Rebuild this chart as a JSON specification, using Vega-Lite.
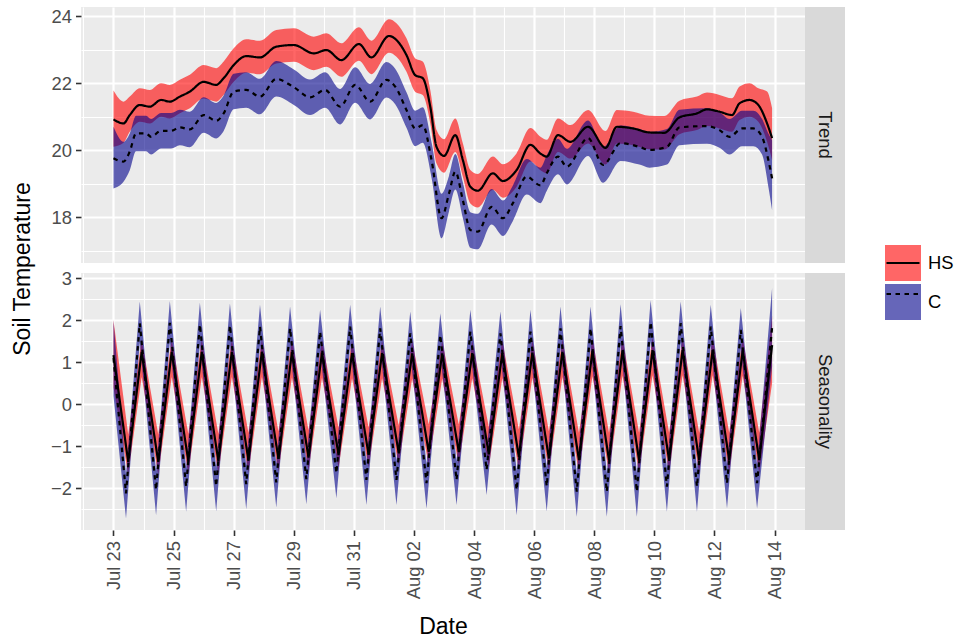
{
"$schema":"https://vega.github.io/schema/vega-lite/v6.json",
"background":"white",
"autosize":{"type":"pad"},
"padding":{"left":11,"top":7,"right":0,"bottom":0},
"bounds":"flush",
"columns":2,
"spacing":{"row":10,"column":0},
"config":{
 "font":"Liberation Sans",
 "view":{"stroke":null},
 "axis":{"domain":false,"labelFont":"Liberation Sans","labelFontSize":18.4,"labelColor":"#4D4D4D","tickColor":"#333333","tickSize":5.5,"tickWidth":1.6,"labelPadding":4,"gridColor":"#FFFFFF","titleFont":"Liberation Sans","titleFontSize":23,"titleFontWeight":"normal","titleColor":"#000000","labelOverlap":false},
 "legend":{"labelFont":"Liberation Sans"}
},
"datasets":{
"trend":[
{"g":"HS","t":"2016-07-23T00:00Z","v":20.92,"lo":20.10,"hi":21.78},
{"g":"HS","t":"2016-07-23T08:00Z","v":20.80,"lo":20.22,"hi":21.45},
{"g":"HS","t":"2016-07-23T13:00Z","v":21.05,"lo":20.55,"hi":21.60},
{"g":"HS","t":"2016-07-23T21:00Z","v":21.35,"lo":20.85,"hi":21.85},
{"g":"HS","t":"2016-07-24T05:00Z","v":21.30,"lo":20.80,"hi":21.80},
{"g":"HS","t":"2016-07-24T14:00Z","v":21.50,"lo":21.00,"hi":22.00},
{"g":"HS","t":"2016-07-24T21:00Z","v":21.45,"lo":20.95,"hi":21.95},
{"g":"HS","t":"2016-07-25T05:00Z","v":21.60,"lo":21.10,"hi":22.10},
{"g":"HS","t":"2016-07-25T13:00Z","v":21.75,"lo":21.25,"hi":22.25},
{"g":"HS","t":"2016-07-26T00:00Z","v":22.04,"lo":21.54,"hi":22.54},
{"g":"HS","t":"2016-07-26T10:00Z","v":21.95,"lo":21.45,"hi":22.45},
{"g":"HS","t":"2016-07-26T16:00Z","v":22.15,"lo":21.65,"hi":22.65},
{"g":"HS","t":"2016-07-27T00:00Z","v":22.54,"lo":22.04,"hi":23.04},
{"g":"HS","t":"2016-07-27T10:00Z","v":22.81,"lo":22.31,"hi":23.31},
{"g":"HS","t":"2016-07-27T21:00Z","v":22.77,"lo":22.27,"hi":23.27},
{"g":"HS","t":"2016-07-28T10:00Z","v":23.09,"lo":22.59,"hi":23.59},
{"g":"HS","t":"2016-07-29T00:00Z","v":23.14,"lo":22.64,"hi":23.64},
{"g":"HS","t":"2016-07-29T16:00Z","v":22.89,"lo":22.39,"hi":23.39},
{"g":"HS","t":"2016-07-30T02:00Z","v":22.99,"lo":22.49,"hi":23.49},
{"g":"HS","t":"2016-07-30T14:00Z","v":22.69,"lo":22.19,"hi":23.19},
{"g":"HS","t":"2016-07-31T04:00Z","v":23.17,"lo":22.67,"hi":23.67},
{"g":"HS","t":"2016-07-31T14:00Z","v":22.77,"lo":22.27,"hi":23.27},
{"g":"HS","t":"2016-08-01T04:00Z","v":23.41,"lo":22.91,"hi":23.91},
{"g":"HS","t":"2016-08-01T10:00Z","v":23.29,"lo":22.79,"hi":23.79},
{"g":"HS","t":"2016-08-01T18:00Z","v":22.84,"lo":22.34,"hi":23.34},
{"g":"HS","t":"2016-08-02T01:00Z","v":22.24,"lo":21.74,"hi":22.74},
{"g":"HS","t":"2016-08-02T07:00Z","v":22.15,"lo":21.65,"hi":22.65},
{"g":"HS","t":"2016-08-02T13:00Z","v":21.30,"lo":20.80,"hi":21.80},
{"g":"HS","t":"2016-08-02T18:00Z","v":20.10,"lo":19.60,"hi":20.60},
{"g":"HS","t":"2016-08-03T00:00Z","v":19.83,"lo":19.33,"hi":20.33},
{"g":"HS","t":"2016-08-03T09:00Z","v":20.45,"lo":19.95,"hi":20.95},
{"g":"HS","t":"2016-08-03T15:00Z","v":19.71,"lo":19.21,"hi":20.21},
{"g":"HS","t":"2016-08-03T21:00Z","v":18.91,"lo":18.41,"hi":19.41},
{"g":"HS","t":"2016-08-04T03:00Z","v":18.79,"lo":18.29,"hi":19.29},
{"g":"HS","t":"2016-08-04T15:00Z","v":19.31,"lo":18.81,"hi":19.81},
{"g":"HS","t":"2016-08-04T23:00Z","v":19.08,"lo":18.58,"hi":19.58},
{"g":"HS","t":"2016-08-05T10:00Z","v":19.41,"lo":18.91,"hi":19.91},
{"g":"HS","t":"2016-08-05T21:00Z","v":20.16,"lo":19.66,"hi":20.66},
{"g":"HS","t":"2016-08-06T05:00Z","v":19.90,"lo":19.40,"hi":20.40},
{"g":"HS","t":"2016-08-06T10:00Z","v":19.81,"lo":19.31,"hi":20.31},
{"g":"HS","t":"2016-08-06T19:00Z","v":20.45,"lo":19.95,"hi":20.95},
{"g":"HS","t":"2016-08-07T05:00Z","v":20.25,"lo":19.75,"hi":20.75},
{"g":"HS","t":"2016-08-07T19:00Z","v":20.70,"lo":20.20,"hi":21.20},
{"g":"HS","t":"2016-08-08T09:00Z","v":20.07,"lo":19.57,"hi":20.57},
{"g":"HS","t":"2016-08-08T18:00Z","v":20.70,"lo":20.20,"hi":21.20},
{"g":"HS","t":"2016-08-09T07:00Z","v":20.65,"lo":20.15,"hi":21.15},
{"g":"HS","t":"2016-08-09T20:00Z","v":20.53,"lo":20.03,"hi":21.03},
{"g":"HS","t":"2016-08-10T08:00Z","v":20.52,"lo":20.02,"hi":21.02},
{"g":"HS","t":"2016-08-10T20:00Z","v":20.98,"lo":20.48,"hi":21.48},
{"g":"HS","t":"2016-08-11T10:00Z","v":21.10,"lo":20.60,"hi":21.60},
{"g":"HS","t":"2016-08-11T18:00Z","v":21.22,"lo":20.72,"hi":21.72},
{"g":"HS","t":"2016-08-12T04:00Z","v":21.15,"lo":20.65,"hi":21.65},
{"g":"HS","t":"2016-08-12T14:00Z","v":21.05,"lo":20.55,"hi":21.55},
{"g":"HS","t":"2016-08-12T20:00Z","v":21.40,"lo":20.90,"hi":21.90},
{"g":"HS","t":"2016-08-13T04:00Z","v":21.50,"lo":21.00,"hi":22.00},
{"g":"HS","t":"2016-08-13T11:00Z","v":21.35,"lo":20.85,"hi":21.85},
{"g":"HS","t":"2016-08-13T18:00Z","v":20.80,"lo":20.25,"hi":21.75},
{"g":"HS","t":"2016-08-13T22:00Z","v":20.36,"lo":19.71,"hi":21.25},
{"g":"C","t":"2016-07-23T00:00Z","v":19.76,"lo":18.86,"hi":20.70},
{"g":"C","t":"2016-07-23T08:00Z","v":19.66,"lo":19.06,"hi":20.25},
{"g":"C","t":"2016-07-23T13:00Z","v":19.96,"lo":19.40,"hi":20.50},
{"g":"C","t":"2016-07-23T18:00Z","v":20.50,"lo":19.97,"hi":21.03},
{"g":"C","t":"2016-07-24T02:00Z","v":20.50,"lo":19.97,"hi":21.03},
{"g":"C","t":"2016-07-24T06:00Z","v":20.40,"lo":19.87,"hi":20.93},
{"g":"C","t":"2016-07-24T14:00Z","v":20.58,"lo":20.05,"hi":21.11},
{"g":"C","t":"2016-07-24T22:00Z","v":20.58,"lo":20.05,"hi":21.11},
{"g":"C","t":"2016-07-25T05:00Z","v":20.68,"lo":20.15,"hi":21.21},
{"g":"C","t":"2016-07-25T13:00Z","v":20.62,"lo":20.09,"hi":21.15},
{"g":"C","t":"2016-07-26T00:00Z","v":21.05,"lo":20.52,"hi":21.58},
{"g":"C","t":"2016-07-26T10:00Z","v":20.88,"lo":20.35,"hi":21.41},
{"g":"C","t":"2016-07-26T16:00Z","v":21.10,"lo":20.57,"hi":21.63},
{"g":"C","t":"2016-07-27T00:00Z","v":21.75,"lo":21.22,"hi":22.28},
{"g":"C","t":"2016-07-27T10:00Z","v":21.80,"lo":21.27,"hi":22.33},
{"g":"C","t":"2016-07-27T21:00Z","v":21.60,"lo":21.07,"hi":22.13},
{"g":"C","t":"2016-07-28T10:00Z","v":22.13,"lo":21.60,"hi":22.66},
{"g":"C","t":"2016-07-29T00:00Z","v":21.88,"lo":21.35,"hi":22.41},
{"g":"C","t":"2016-07-29T13:00Z","v":21.58,"lo":21.05,"hi":22.11},
{"g":"C","t":"2016-07-30T01:00Z","v":21.80,"lo":21.27,"hi":22.33},
{"g":"C","t":"2016-07-30T13:00Z","v":21.30,"lo":20.77,"hi":21.83},
{"g":"C","t":"2016-07-31T01:00Z","v":21.95,"lo":21.42,"hi":22.48},
{"g":"C","t":"2016-07-31T13:00Z","v":21.45,"lo":20.92,"hi":21.98},
{"g":"C","t":"2016-08-01T02:00Z","v":22.10,"lo":21.57,"hi":22.63},
{"g":"C","t":"2016-08-01T09:00Z","v":21.90,"lo":21.37,"hi":22.43},
{"g":"C","t":"2016-08-01T18:00Z","v":21.20,"lo":20.67,"hi":21.73},
{"g":"C","t":"2016-08-02T01:00Z","v":20.65,"lo":20.12,"hi":21.18},
{"g":"C","t":"2016-08-02T07:00Z","v":20.75,"lo":20.22,"hi":21.28},
{"g":"C","t":"2016-08-02T14:00Z","v":19.71,"lo":19.18,"hi":20.24},
{"g":"C","t":"2016-08-02T22:00Z","v":17.97,"lo":17.37,"hi":18.70},
{"g":"C","t":"2016-08-03T04:00Z","v":18.71,"lo":18.18,"hi":19.24},
{"g":"C","t":"2016-08-03T09:00Z","v":19.36,"lo":18.83,"hi":19.89},
{"g":"C","t":"2016-08-03T15:00Z","v":18.51,"lo":17.98,"hi":19.04},
{"g":"C","t":"2016-08-03T21:00Z","v":17.62,"lo":17.09,"hi":18.15},
{"g":"C","t":"2016-08-04T03:00Z","v":17.57,"lo":17.04,"hi":18.10},
{"g":"C","t":"2016-08-04T14:00Z","v":18.31,"lo":17.78,"hi":18.84},
{"g":"C","t":"2016-08-04T23:00Z","v":17.97,"lo":17.44,"hi":18.50},
{"g":"C","t":"2016-08-05T07:00Z","v":18.42,"lo":17.89,"hi":18.95},
{"g":"C","t":"2016-08-05T18:00Z","v":19.21,"lo":18.68,"hi":19.74},
{"g":"C","t":"2016-08-06T05:00Z","v":18.95,"lo":18.42,"hi":19.48},
{"g":"C","t":"2016-08-06T10:00Z","v":19.31,"lo":18.78,"hi":19.84},
{"g":"C","t":"2016-08-06T19:00Z","v":19.81,"lo":19.28,"hi":20.34},
{"g":"C","t":"2016-08-07T02:00Z","v":19.51,"lo":18.98,"hi":20.04},
{"g":"C","t":"2016-08-07T19:00Z","v":20.36,"lo":19.83,"hi":20.89},
{"g":"C","t":"2016-08-08T07:00Z","v":19.56,"lo":19.03,"hi":20.09},
{"g":"C","t":"2016-08-08T21:00Z","v":20.21,"lo":19.68,"hi":20.74},
{"g":"C","t":"2016-08-09T12:00Z","v":20.10,"lo":19.57,"hi":20.63},
{"g":"C","t":"2016-08-09T20:00Z","v":20.01,"lo":19.48,"hi":20.54},
{"g":"C","t":"2016-08-10T10:00Z","v":20.10,"lo":19.57,"hi":20.63},
{"g":"C","t":"2016-08-10T20:00Z","v":20.68,"lo":20.15,"hi":21.21},
{"g":"C","t":"2016-08-11T18:00Z","v":20.72,"lo":20.19,"hi":21.25},
{"g":"C","t":"2016-08-12T04:00Z","v":20.60,"lo":20.07,"hi":21.13},
{"g":"C","t":"2016-08-12T12:00Z","v":20.40,"lo":19.87,"hi":20.93},
{"g":"C","t":"2016-08-12T22:00Z","v":20.65,"lo":20.12,"hi":21.18},
{"g":"C","t":"2016-08-13T07:00Z","v":20.65,"lo":20.12,"hi":21.18},
{"g":"C","t":"2016-08-13T14:00Z","v":20.40,"lo":19.87,"hi":20.93},
{"g":"C","t":"2016-08-13T19:00Z","v":19.71,"lo":18.91,"hi":20.50},
{"g":"C","t":"2016-08-13T22:00Z","v":19.16,"lo":18.21,"hi":20.30}
],
"season":[
{"g":"HS","t":"2016-07-23T00:00Z","v":1.17,"lo":0.40,"hi":2.00},
{"g":"HS","t":"2016-07-23T11:45Z","v":-1.37,"lo":-1.67,"hi":-0.72},
{"g":"HS","t":"2016-07-23T22:30Z","v":1.25,"lo":0.65,"hi":1.55},
{"g":"HS","t":"2016-07-24T11:45Z","v":-1.37,"lo":-1.67,"hi":-0.72},
{"g":"HS","t":"2016-07-24T22:30Z","v":1.25,"lo":0.65,"hi":1.55},
{"g":"HS","t":"2016-07-25T11:45Z","v":-1.35,"lo":-1.65,"hi":-0.70},
{"g":"HS","t":"2016-07-25T22:30Z","v":1.25,"lo":0.65,"hi":1.55},
{"g":"HS","t":"2016-07-26T11:45Z","v":-1.35,"lo":-1.65,"hi":-0.70},
{"g":"HS","t":"2016-07-26T22:30Z","v":1.25,"lo":0.65,"hi":1.55},
{"g":"HS","t":"2016-07-27T11:45Z","v":-1.33,"lo":-1.63,"hi":-0.68},
{"g":"HS","t":"2016-07-27T22:30Z","v":1.25,"lo":0.65,"hi":1.55},
{"g":"HS","t":"2016-07-28T11:45Z","v":-1.30,"lo":-1.60,"hi":-0.65},
{"g":"HS","t":"2016-07-28T22:30Z","v":1.24,"lo":0.64,"hi":1.54},
{"g":"HS","t":"2016-07-29T11:45Z","v":-1.27,"lo":-1.57,"hi":-0.62},
{"g":"HS","t":"2016-07-29T22:30Z","v":1.23,"lo":0.63,"hi":1.53},
{"g":"HS","t":"2016-07-30T11:45Z","v":-1.21,"lo":-1.51,"hi":-0.56},
{"g":"HS","t":"2016-07-30T22:30Z","v":1.22,"lo":0.62,"hi":1.52},
{"g":"HS","t":"2016-07-31T11:45Z","v":-1.20,"lo":-1.50,"hi":-0.55},
{"g":"HS","t":"2016-07-31T22:30Z","v":1.22,"lo":0.62,"hi":1.52},
{"g":"HS","t":"2016-08-01T11:45Z","v":-1.15,"lo":-1.45,"hi":-0.50},
{"g":"HS","t":"2016-08-01T22:30Z","v":1.21,"lo":0.61,"hi":1.51},
{"g":"HS","t":"2016-08-02T11:45Z","v":-1.13,"lo":-1.43,"hi":-0.48},
{"g":"HS","t":"2016-08-02T22:30Z","v":1.21,"lo":0.61,"hi":1.51},
{"g":"HS","t":"2016-08-03T11:45Z","v":-1.13,"lo":-1.43,"hi":-0.48},
{"g":"HS","t":"2016-08-03T22:30Z","v":1.22,"lo":0.62,"hi":1.52},
{"g":"HS","t":"2016-08-04T11:45Z","v":-1.19,"lo":-1.49,"hi":-0.54},
{"g":"HS","t":"2016-08-04T22:30Z","v":1.22,"lo":0.62,"hi":1.52},
{"g":"HS","t":"2016-08-05T11:45Z","v":-1.25,"lo":-1.55,"hi":-0.60},
{"g":"HS","t":"2016-08-05T22:30Z","v":1.23,"lo":0.63,"hi":1.53},
{"g":"HS","t":"2016-08-06T11:45Z","v":-1.29,"lo":-1.59,"hi":-0.64},
{"g":"HS","t":"2016-08-06T22:30Z","v":1.25,"lo":0.65,"hi":1.55},
{"g":"HS","t":"2016-08-07T11:45Z","v":-1.33,"lo":-1.63,"hi":-0.68},
{"g":"HS","t":"2016-08-07T22:30Z","v":1.27,"lo":0.67,"hi":1.57},
{"g":"HS","t":"2016-08-08T11:45Z","v":-1.33,"lo":-1.63,"hi":-0.68},
{"g":"HS","t":"2016-08-08T22:30Z","v":1.28,"lo":0.68,"hi":1.58},
{"g":"HS","t":"2016-08-09T11:45Z","v":-1.33,"lo":-1.63,"hi":-0.68},
{"g":"HS","t":"2016-08-09T22:30Z","v":1.29,"lo":0.69,"hi":1.59},
{"g":"HS","t":"2016-08-10T11:45Z","v":-1.33,"lo":-1.63,"hi":-0.68},
{"g":"HS","t":"2016-08-10T22:30Z","v":1.29,"lo":0.69,"hi":1.59},
{"g":"HS","t":"2016-08-11T11:45Z","v":-1.33,"lo":-1.63,"hi":-0.68},
{"g":"HS","t":"2016-08-11T22:30Z","v":1.29,"lo":0.69,"hi":1.59},
{"g":"HS","t":"2016-08-12T11:45Z","v":-1.33,"lo":-1.63,"hi":-0.68},
{"g":"HS","t":"2016-08-12T22:30Z","v":1.28,"lo":0.68,"hi":1.58},
{"g":"HS","t":"2016-08-13T11:45Z","v":-1.33,"lo":-1.63,"hi":-0.68},
{"g":"HS","t":"2016-08-13T22:00Z","v":1.41,"lo":0.50,"hi":2.10},
{"g":"C","t":"2016-07-23T00:00Z","v":1.10,"lo":0.20,"hi":2.00},
{"g":"C","t":"2016-07-23T10:00Z","v":-2.12,"lo":-2.72,"hi":-1.67},
{"g":"C","t":"2016-07-23T21:00Z","v":1.93,"lo":1.48,"hi":2.45},
{"g":"C","t":"2016-07-24T10:00Z","v":-2.04,"lo":-2.64,"hi":-1.59},
{"g":"C","t":"2016-07-24T21:00Z","v":1.94,"lo":1.49,"hi":2.46},
{"g":"C","t":"2016-07-25T10:00Z","v":-1.96,"lo":-2.56,"hi":-1.51},
{"g":"C","t":"2016-07-25T21:00Z","v":1.90,"lo":1.45,"hi":2.42},
{"g":"C","t":"2016-07-26T10:00Z","v":-1.95,"lo":-2.55,"hi":-1.50},
{"g":"C","t":"2016-07-26T21:00Z","v":1.88,"lo":1.43,"hi":2.40},
{"g":"C","t":"2016-07-27T10:00Z","v":-1.90,"lo":-2.50,"hi":-1.45},
{"g":"C","t":"2016-07-27T21:00Z","v":1.85,"lo":1.40,"hi":2.37},
{"g":"C","t":"2016-07-28T10:00Z","v":-1.86,"lo":-2.46,"hi":-1.41},
{"g":"C","t":"2016-07-28T21:00Z","v":1.81,"lo":1.36,"hi":2.33},
{"g":"C","t":"2016-07-29T10:00Z","v":-1.78,"lo":-2.38,"hi":-1.33},
{"g":"C","t":"2016-07-29T21:00Z","v":1.73,"lo":1.28,"hi":2.25},
{"g":"C","t":"2016-07-30T10:00Z","v":-1.64,"lo":-2.24,"hi":-1.19},
{"g":"C","t":"2016-07-30T21:00Z","v":1.85,"lo":1.40,"hi":2.37},
{"g":"C","t":"2016-07-31T10:00Z","v":-1.80,"lo":-2.40,"hi":-1.35},
{"g":"C","t":"2016-07-31T21:00Z","v":1.81,"lo":1.36,"hi":2.33},
{"g":"C","t":"2016-08-01T10:00Z","v":-1.80,"lo":-2.40,"hi":-1.35},
{"g":"C","t":"2016-08-01T21:00Z","v":1.69,"lo":1.24,"hi":2.21},
{"g":"C","t":"2016-08-02T10:00Z","v":-1.88,"lo":-2.48,"hi":-1.43},
{"g":"C","t":"2016-08-02T21:00Z","v":1.65,"lo":1.20,"hi":2.17},
{"g":"C","t":"2016-08-03T10:00Z","v":-1.80,"lo":-2.40,"hi":-1.35},
{"g":"C","t":"2016-08-03T21:00Z","v":1.73,"lo":1.28,"hi":2.25},
{"g":"C","t":"2016-08-04T10:00Z","v":-1.56,"lo":-2.16,"hi":-1.11},
{"g":"C","t":"2016-08-04T21:00Z","v":1.69,"lo":1.24,"hi":2.21},
{"g":"C","t":"2016-08-05T10:00Z","v":-2.04,"lo":-2.64,"hi":-1.59},
{"g":"C","t":"2016-08-05T21:00Z","v":1.73,"lo":1.28,"hi":2.25},
{"g":"C","t":"2016-08-06T10:00Z","v":-1.95,"lo":-2.55,"hi":-1.50},
{"g":"C","t":"2016-08-06T21:00Z","v":1.81,"lo":1.36,"hi":2.33},
{"g":"C","t":"2016-08-07T10:00Z","v":-2.08,"lo":-2.68,"hi":-1.63},
{"g":"C","t":"2016-08-07T21:00Z","v":1.81,"lo":1.36,"hi":2.33},
{"g":"C","t":"2016-08-08T10:00Z","v":-2.08,"lo":-2.68,"hi":-1.63},
{"g":"C","t":"2016-08-08T21:00Z","v":1.86,"lo":1.41,"hi":2.38},
{"g":"C","t":"2016-08-09T10:00Z","v":-2.08,"lo":-2.68,"hi":-1.63},
{"g":"C","t":"2016-08-09T21:00Z","v":1.96,"lo":1.51,"hi":2.48},
{"g":"C","t":"2016-08-10T10:00Z","v":-1.96,"lo":-2.56,"hi":-1.51},
{"g":"C","t":"2016-08-10T21:00Z","v":1.93,"lo":1.48,"hi":2.45},
{"g":"C","t":"2016-08-11T10:00Z","v":-1.96,"lo":-2.56,"hi":-1.51},
{"g":"C","t":"2016-08-11T21:00Z","v":1.85,"lo":1.40,"hi":2.37},
{"g":"C","t":"2016-08-12T10:00Z","v":-1.88,"lo":-2.48,"hi":-1.43},
{"g":"C","t":"2016-08-12T21:00Z","v":1.77,"lo":1.32,"hi":2.29},
{"g":"C","t":"2016-08-13T10:00Z","v":-1.88,"lo":-2.48,"hi":-1.43},
{"g":"C","t":"2016-08-13T22:00Z","v":1.83,"lo":0.90,"hi":2.77}
]
},
"concat":[
{
 "width":724,"height":256,
 "view":{"fill":"#EBEBEB","stroke":null},
 "data":{"name":"trend"},
 "encoding":{"x":{"field":"t","type":"temporal",
   "scale":{"type":"utc","domain":[{"year":2016,"month":7,"date":21,"hours":22,"minutes":3,"utc":true},{"year":2016,"month":8,"date":15,"hours":0,"minutes":17,"utc":true}]},
   "axis":{"values":[1469145600000,1469232000000,1469318400000,1469404800000,1469491200000,1469577600000,1469664000000,1469750400000,1469836800000,1469923200000,1470009600000,1470096000000,1470182400000,1470268800000,1470355200000,1470441600000,1470528000000,1470614400000,1470700800000,1470787200000,1470873600000,1470960000000,1471046400000,1471132800000],
     "labels":false,"ticks":false,"title":null,"grid":true,
     "gridWidth":{"condition":{"test":"((datum.value - 1469232000000) / 86400000) % 2 == 0","value":2.2},"value":1.1}}}},
 "layer":[
  {"transform":[{"filter":"datum.g == 'HS'"}],
   "mark":{"type":"area","fillOpacity":0.6,"interpolate":"monotone"},
   "encoding":{"y":{"field":"hi","type":"quantitative","scale":{"domain":[16.633,24.275],"nice":false,"zero":false},
      "axis":{"values":[17,18,19,20,21,22,23,24],"format":".0f","labelExpr":"datum.value % 2 == 0 ? datum.label : ''",
        "gridWidth":{"condition":{"test":"datum.value % 2 == 0","value":2.2},"value":1.1},
        "tickOpacity":{"condition":{"test":"datum.value % 2 == 0","value":1},"value":0},
        "title":"Soil Temperature","titleY":261.5,"titlePadding":17}},
     "y2":{"field":"lo"},
     "fill":{"field":"g","type":"nominal","scale":{"domain":["HS","C"],"range":["#FF0000","#00008B"]},
       "legend":{"orient":"none","legendX":804,"legendY":238,"title":null,"symbolType":"square","symbolSize":1296,"symbolOpacity":0.6,"symbolStrokeWidth":0,"labelFontSize":18.4,"labelColor":"#000000","labelOffset":7,"rowPadding":3,"padding":0}}}},
  {"transform":[{"filter":"datum.g == 'C'"}],
   "mark":{"type":"area","fillOpacity":0.6,"interpolate":"monotone"},
   "encoding":{"y":{"field":"hi","type":"quantitative","scale":{"domain":[16.633,24.275],"nice":false,"zero":false},
      "axis":{"values":[17,18,19,20,21,22,23,24],"format":".0f","labelExpr":"datum.value % 2 == 0 ? datum.label : ''",
        "gridWidth":{"condition":{"test":"datum.value % 2 == 0","value":2.2},"value":1.1},
        "tickOpacity":{"condition":{"test":"datum.value % 2 == 0","value":1},"value":0},
        "title":"Soil Temperature","titleY":261.5,"titlePadding":17}},
     "y2":{"field":"lo"},
     "fill":{"field":"g","type":"nominal","scale":{"domain":["HS","C"],"range":["#FF0000","#00008B"]},
       "legend":{"orient":"none","legendX":804,"legendY":238,"title":null,"symbolType":"square","symbolSize":1296,"symbolOpacity":0.6,"symbolStrokeWidth":0,"labelFontSize":18.4,"labelColor":"#000000","labelOffset":7,"rowPadding":3,"padding":0}}}},
  {"mark":{"type":"line","interpolate":"monotone","color":"#000000","strokeWidth":2.2},
   "encoding":{"y":{"field":"v","type":"quantitative","scale":{"domain":[16.633,24.275],"nice":false,"zero":false},
      "axis":{"values":[17,18,19,20,21,22,23,24],"format":".0f","labelExpr":"datum.value % 2 == 0 ? datum.label : ''",
        "gridWidth":{"condition":{"test":"datum.value % 2 == 0","value":2.2},"value":1.1},
        "tickOpacity":{"condition":{"test":"datum.value % 2 == 0","value":1},"value":0},
        "title":"Soil Temperature","titleY":261.5,"titlePadding":17}},
     "strokeDash":{"field":"g","type":"nominal","scale":{"range":[[4.5,4.5],[1,0]]},
       "legend":{"orient":"none","legendX":804,"legendY":238,"title":null,"values":["HS","C"],"symbolType":"stroke","symbolSize":1089,"symbolStrokeWidth":2.2,"symbolStrokeColor":"#000000","labelFontSize":18.4,"labelExpr":"''","labelOffset":7,"rowPadding":3,"padding":0,"zindex":1}}}}
 ]
},
{
 "width":40,"height":256,
 "view":{"fill":"#D9D9D9","stroke":null},
 "data":{"values":[{"s":"Trend"}]},
 "mark":{"type":"text","angle":90,"fontSize":18.4,"color":"#1A1A1A"},
 "encoding":{"text":{"field":"s","type":"nominal"}}
},
{
 "width":724,"height":257,
 "view":{"fill":"#EBEBEB","stroke":null},
 "data":{"name":"season"},
 "encoding":{"x":{"field":"t","type":"temporal",
   "scale":{"type":"utc","domain":[{"year":2016,"month":7,"date":21,"hours":22,"minutes":3,"utc":true},{"year":2016,"month":8,"date":15,"hours":0,"minutes":17,"utc":true}]},
   "axis":{"values":[1469145600000,1469232000000,1469318400000,1469404800000,1469491200000,1469577600000,1469664000000,1469750400000,1469836800000,1469923200000,1470009600000,1470096000000,1470182400000,1470268800000,1470355200000,1470441600000,1470528000000,1470614400000,1470700800000,1470787200000,1470873600000,1470960000000,1471046400000,1471132800000],
     "title":"Date","titlePadding":17,"labelAngle":270,"labelAlign":"right","labelBaseline":"middle","labelPadding":5,
     "labelExpr":"((datum.value - 1469232000000) / 86400000) % 2 == 0 ? utcFormat(datum.value, '%b %d') : ''",
     "grid":true,
     "gridWidth":{"condition":{"test":"((datum.value - 1469232000000) / 86400000) % 2 == 0","value":2.2},"value":1.1},
     "tickOpacity":{"condition":{"test":"((datum.value - 1469232000000) / 86400000) % 2 == 0","value":1},"value":0}}}},
 "layer":[
  {"transform":[{"filter":"datum.g == 'HS'"}],
   "mark":{"type":"area","fillOpacity":0.6},
   "encoding":{"y":{"field":"hi","type":"quantitative","scale":{"domain":[-2.993,3.126],"nice":false,"zero":false},
      "axis":{"values":[-2.5,-2,-1.5,-1,-0.5,0,0.5,1,1.5,2,2.5,3],"format":".0f","labelExpr":"datum.value % 1 == 0 ? datum.label : ''",
        "gridWidth":{"condition":{"test":"datum.value % 1 == 0","value":2.2},"value":1.1},
        "tickOpacity":{"condition":{"test":"datum.value % 1 == 0","value":1},"value":0},
        "title":null}},
     "y2":{"field":"lo"},
     "fill":{"field":"g","type":"nominal","scale":{"domain":["HS","C"],"range":["#FF0000","#00008B"]},
       "legend":{"orient":"none","legendX":804,"legendY":238,"title":null,"symbolType":"square","symbolSize":1296,"symbolOpacity":0.6,"symbolStrokeWidth":0,"labelFontSize":18.4,"labelColor":"#000000","labelOffset":7,"rowPadding":3,"padding":0}}}},
  {"transform":[{"filter":"datum.g == 'C'"}],
   "mark":{"type":"area","fillOpacity":0.6},
   "encoding":{"y":{"field":"hi","type":"quantitative","scale":{"domain":[-2.993,3.126],"nice":false,"zero":false},
      "axis":{"values":[-2.5,-2,-1.5,-1,-0.5,0,0.5,1,1.5,2,2.5,3],"format":".0f","labelExpr":"datum.value % 1 == 0 ? datum.label : ''",
        "gridWidth":{"condition":{"test":"datum.value % 1 == 0","value":2.2},"value":1.1},
        "tickOpacity":{"condition":{"test":"datum.value % 1 == 0","value":1},"value":0},
        "title":null}},
     "y2":{"field":"lo"},
     "fill":{"field":"g","type":"nominal","scale":{"domain":["HS","C"],"range":["#FF0000","#00008B"]},
       "legend":{"orient":"none","legendX":804,"legendY":238,"title":null,"symbolType":"square","symbolSize":1296,"symbolOpacity":0.6,"symbolStrokeWidth":0,"labelFontSize":18.4,"labelColor":"#000000","labelOffset":7,"rowPadding":3,"padding":0}}}},
  {"mark":{"type":"line","color":"#000000","strokeWidth":2.2},
   "encoding":{"y":{"field":"v","type":"quantitative","scale":{"domain":[-2.993,3.126],"nice":false,"zero":false},
      "axis":{"values":[-2.5,-2,-1.5,-1,-0.5,0,0.5,1,1.5,2,2.5,3],"format":".0f","labelExpr":"datum.value % 1 == 0 ? datum.label : ''",
        "gridWidth":{"condition":{"test":"datum.value % 1 == 0","value":2.2},"value":1.1},
        "tickOpacity":{"condition":{"test":"datum.value % 1 == 0","value":1},"value":0},
        "title":null}},
     "strokeDash":{"field":"g","type":"nominal","scale":{"range":[[4.5,4.5],[1,0]]},
       "legend":{"orient":"none","legendX":804,"legendY":238,"title":null,"values":["HS","C"],"symbolType":"stroke","symbolSize":1089,"symbolStrokeWidth":2.2,"symbolStrokeColor":"#000000","labelFontSize":18.4,"labelExpr":"''","labelOffset":7,"rowPadding":3,"padding":0,"zindex":1}}}}
 ]
},
{
 "width":40,"height":257,
 "view":{"fill":"#D9D9D9","stroke":null},
 "data":{"values":[{"s":"Seasonality"}]},
 "mark":{"type":"text","angle":90,"fontSize":18.4,"color":"#1A1A1A"},
 "encoding":{"text":{"field":"s","type":"nominal"}}
}
],
"resolve":{"scale":{"x":"independent","y":"independent","fill":"shared","strokeDash":"shared"}}
}
